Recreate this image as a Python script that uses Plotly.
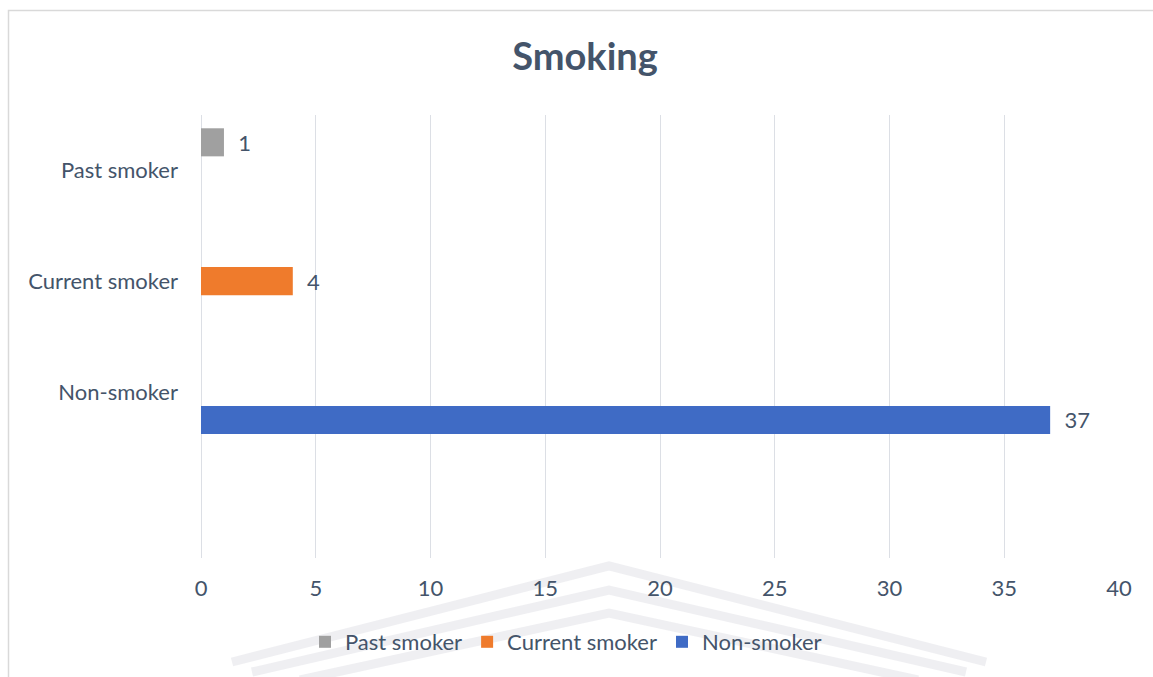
import plotly.graph_objects as go

# Categories shown top to bottom; the trailing blank keeps an empty row at the bottom
categories = ["Past smoker", "Current smoker", "Non-smoker", " "]
series_names = ["Past smoker", "Current smoker", "Non-smoker"]
series_values = [1, 4, 37]
series_colors = ["#A0A0A0", "#EF7B2C", "#3F6BC5"]
x_ticks = [0, 5, 10, 15, 20, 25, 30, 35, 40]

W, H = 1153, 677
L, R, T, B = 201, 34, 115, 119
FONT = "Lato"
TEXT_COLOR = "#44546A"
FS = 22

fig = go.Figure()
for i, (name, val, color) in enumerate(zip(series_names, series_values, series_colors)):
    fig.add_trace(go.Bar(
        name=name,
        y=[name],
        x=[val],
        orientation="h",
        offsetgroup=str(i),
        marker=dict(color=color, line=dict(width=0)),
        texttemplate="\u00a0\u00a0%{x}",
        textposition="outside",
        textfont=dict(family=FONT, size=FS, color=TEXT_COLOR),
        cliponaxis=False,
    ))


def px_to_paper(px, py):
    return (px - L) / (W - L - R), (H - B - py) / (H - T - B)


# faint background emblem (nested chevrons) behind the lower part of the chart
shapes = []
chevrons = [
    [(232, 662), (609, 566), (986, 662)],
    [(252, 672), (609, 590), (966, 672)],
    [(300, 680), (609, 613), (918, 680)],
]
for pts in chevrons:
    coords = [px_to_paper(*p) for p in pts]
    path = "M {} {} L {} {} L {} {}".format(*[c for xy in coords for c in xy])
    shapes.append(dict(type="path", xref="paper", yref="paper", path=path,
                       line=dict(color="rgba(205,205,215,0.32)", width=9),
                       layer="below"))

# outer chart border
x0, y0 = px_to_paper(8.5, 10.5)
x1, y1 = px_to_paper(1170, 700)
shapes.append(dict(type="rect", xref="paper", yref="paper", x0=x0, y0=y0, x1=x1, y1=y1,
                   line=dict(color="#D9D9D9", width=1.5), fillcolor="rgba(0,0,0,0)",
                   layer="below"))

fig.update_layout(
    width=W, height=H, autosize=False,
    margin=dict(l=L, r=R, t=T, b=B, pad=0),
    paper_bgcolor="white", plot_bgcolor="white",
    barmode="group", bargap=0.24, bargroupgap=0,
    font=dict(family=FONT, color=TEXT_COLOR, size=FS),
    title=dict(text="<b>Smoking</b>", x=585 / W, xref="container", xanchor="center",
               y=1 - 57 / H, yref="container", yanchor="middle",
               font=dict(family=FONT, size=38, color=TEXT_COLOR)),
    xaxis=dict(range=[0, 40], tickvals=x_ticks, showgrid=True,
               gridcolor="#DCDFE5", gridwidth=1.3, zeroline=True, zerolinecolor="#DCDFE5",
               zerolinewidth=1.3, showline=False, ticks="", ticklabelstandoff=15,
               tickfont=dict(family=FONT, size=FS, color=TEXT_COLOR), fixedrange=True),
    yaxis=dict(categoryorder="array", categoryarray=categories, range=[3.5, -0.5],
               showgrid=False, zeroline=False, showline=False, ticks="",
               ticklabelstandoff=22,
               tickfont=dict(family=FONT, size=FS, color=TEXT_COLOR)),
    legend=dict(orientation="h", xref="container", yref="container",
                x=566 / W, xanchor="center", y=1 - 642 / H, yanchor="middle",
                font=dict(family=FONT, size=FS, color=TEXT_COLOR),
                bgcolor="rgba(0,0,0,0)", itemclick=False, traceorder="normal"),
    shapes=shapes,
    showlegend=True,
)

fig.write_html("out.html")
